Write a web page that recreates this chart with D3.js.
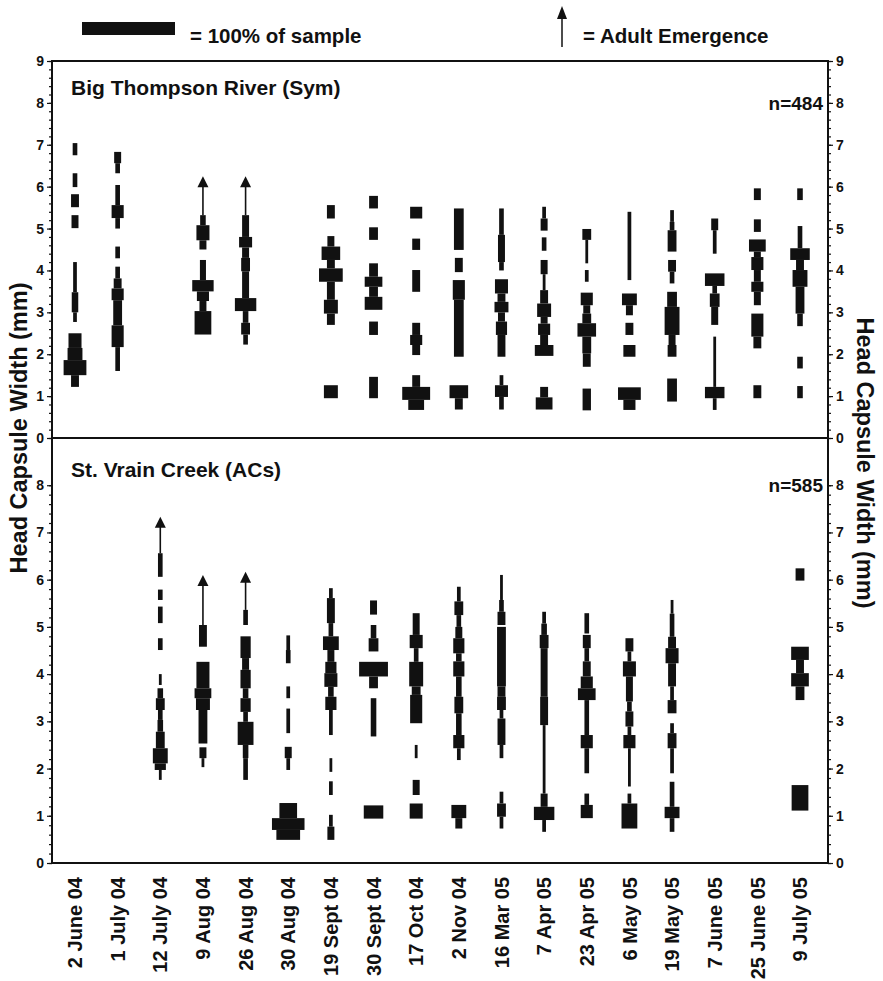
<!DOCTYPE html>
<html><head><meta charset="utf-8">
<script src="https://cdn.jsdelivr.net/npm/d3@7"></script>
<style>
body{margin:0;background:#fff}
svg{display:block}
text{font-family:"Liberation Sans",Arial,Helvetica,sans-serif;font-weight:bold;fill:#111}
</style>
</head><body>
<svg id="chart" width="883" height="981"></svg>
<script>
// ---------------- DATA ----------------
const dates = ["2 June 04","1 July 04","12 July 04","9 Aug 04","26 Aug 04","30 Aug 04","19 Sept 04","30 Sept 04","17 Oct 04","2 Nov 04","16 Mar 05","7 Apr 05","23 Apr 05","6 May 05","19 May 05","7 June 05","25 June 05","9 July 05"];
const yTicksSym = [0,1,2,3,4,5,6,7,8,9];
const yTicksACs = [0,1,2,3,4,5,6,7,8];
const panelTitles = ["Big Thompson River (Sym)", "St. Vrain Creek (ACs)"];
const sampleSizes = ["n=484", "n=585"];
const legendLabels = ["= 100% of sample", "= Adult Emergence"];
const yAxisTitle = "Head Capsule Width (mm)";

// size classes: [lower mm, upper mm, % of sample]
const symBins = [
 ["2 June 04", [[6.75,7.04,5],[5.99,6.32,5],[5.51,5.82,8.5],[5.01,5.32,7.5],[3.48,4.2,4],[3.0,3.48,7],[2.77,3.0,4],[2.15,2.5,14],[1.86,2.15,16],[1.5,1.86,24.5],[1.22,1.5,8.5]]],
 ["1 July 04", [[6.56,6.83,7.5],[6.32,6.56,5],[5.56,6.04,5],[5.25,5.56,13],[5.0,5.25,5],[4.29,4.57,5],[3.81,4.09,5],[3.57,3.81,8.5],[3.29,3.57,13],[2.69,3.29,9.5],[2.17,2.69,13],[1.6,2.17,5]]],
 ["9 Aug 04", [[5.08,5.32,6],[4.72,5.08,14],[4.5,4.72,7.5],[3.77,4.25,6.5],[3.5,3.77,23],[3.27,3.5,13],[3.03,3.27,7.5],[2.47,3.03,18]]],
 ["26 Aug 04", [[4.8,5.32,7.5],[4.55,4.8,14],[4.3,4.55,7.5],[3.98,4.3,9.5],[3.34,3.98,7.5],[3.03,3.34,23],[2.75,3.03,6],[2.47,2.75,9.5],[2.23,2.47,5]]],
 ["19 Sept 04", [[5.24,5.56,8.5],[4.57,4.82,7.5],[4.25,4.57,20],[4.05,4.25,8.5],[3.73,4.05,25.5],[3.3,3.73,8.5],[2.97,3.3,15],[2.7,2.97,8.5],[0.95,1.26,15]]],
 ["30 Sept 04", [[5.48,5.78,9.5],[4.73,5.03,9.5],[3.85,4.17,9.5],[3.61,3.85,19],[3.37,3.61,9.5],[3.06,3.37,19],[2.46,2.78,9.5],[0.95,1.46,9.5]]],
 ["17 Oct 04", [[5.24,5.52,13],[4.49,4.76,8.5],[3.49,4.01,8.5],[2.46,2.75,8.5],[2.22,2.46,13],[1.98,2.22,8.5],[1.22,1.5,8.5],[0.91,1.22,30],[0.67,0.91,17]]],
 ["2 Nov 04", [[4.49,5.48,10.5],[3.96,4.3,8.5],[3.3,3.77,13],[1.94,3.3,10.5],[0.95,1.26,20],[0.68,0.95,8.5]]],
 ["16 Mar 05", [[4.85,5.48,5],[4.2,4.85,7.5],[4.0,4.2,5],[3.45,3.79,14],[3.25,3.45,8.5],[3.0,3.25,15],[2.78,3.0,7.5],[2.46,2.78,12],[1.94,2.46,8.5],[1.26,1.5,4],[0.98,1.26,14],[0.68,0.98,5]]],
 ["7 Apr 05", [[5.24,5.52,4],[4.95,5.24,7.5],[4.47,4.79,5],[3.91,4.25,7.5],[3.53,3.91,3],[3.21,3.53,8.5],[2.89,3.21,15],[2.73,2.89,7.5],[2.46,2.73,13],[2.22,2.46,8.5],[1.96,2.22,20],[0.97,1.22,8.5],[0.68,0.97,18]]],
 ["23 Apr 05", [[4.73,4.99,9.5],[4.17,4.73,3],[3.73,4.01,4],[3.17,3.47,13],[2.97,3.17,7.5],[2.74,2.97,9.5],[2.42,2.74,20],[2.02,2.42,9.5],[1.7,2.02,8.5],[0.66,1.18,9]]],
 ["6 May 05", [[3.77,5.4,4],[3.17,3.45,16],[2.93,3.17,7.5],[2.46,2.75,8.5],[1.94,2.22,13],[0.91,1.21,24.5],[0.67,0.91,13]]],
 ["19 May 05", [[5.16,5.44,4],[4.96,5.16,5],[4.45,4.96,9.5],[3.97,4.25,8.5],[3.69,3.97,5],[3.13,3.49,10.5],[2.46,3.13,16],[2.22,2.46,7.5],[1.94,2.22,9.5],[0.87,1.42,10.5]]],
 ["7 June 05", [[4.96,5.24,7.5],[4.4,4.96,4],[3.63,3.93,21],[3.45,3.63,5],[3.13,3.45,10.5],[2.7,3.13,7.5],[1.22,2.42,3],[0.95,1.22,21],[0.67,0.95,4]]],
 ["25 June 05", [[5.68,5.96,7.5],[4.92,5.22,7.5],[4.45,4.74,18],[4.32,4.45,7.5],[4.01,4.32,13],[3.73,4.01,7.5],[3.49,3.73,13],[3.17,3.49,7.5],[2.42,2.97,13],[2.14,2.42,8.5],[0.95,1.26,8.5]]],
 ["9 July 05", [[5.68,5.96,6],[4.53,5.06,5],[4.25,4.53,21],[4.01,4.25,8.5],[3.61,4.01,16],[2.97,3.61,9.5],[2.67,2.97,6],[1.66,1.94,6],[0.95,1.24,6]]]
];

const acsBins = [
 ["12 July 04", [[6.06,6.56,5],[5.57,5.79,5],[5.08,5.43,5],[4.51,4.76,5],[3.77,4.0,3],[3.49,3.7,6],[3.24,3.49,9.5],[3.03,3.24,5],[2.78,3.03,6],[2.43,2.78,9.5],[2.11,2.43,16],[1.97,2.11,12],[1.76,1.97,3]]],
 ["9 Aug 04", [[4.58,5.04,8.5],[3.7,4.26,14],[3.49,3.7,18],[3.24,3.49,15],[2.53,3.24,9.5],[2.22,2.45,7.5],[2.03,2.22,3]]],
 ["26 Aug 04", [[5.04,5.36,5],[4.34,4.8,11],[4.09,4.34,7.5],[3.7,4.09,11],[3.49,3.7,6],[3.2,3.49,11],[2.99,3.2,5],[2.5,2.99,17],[2.22,2.5,6],[1.76,2.22,5]]],
 ["30 Aug 04", [[4.51,4.82,4],[4.23,4.51,5],[3.49,3.74,4],[2.75,3.27,4],[2.22,2.46,7.5],[1.97,2.22,4],[0.95,1.27,19],[0.7,0.95,35],[0.49,0.7,25.5]]],
 ["19 Sept 04", [[5.61,5.82,4],[5.08,5.61,8.5],[4.8,5.08,5],[4.51,4.8,17],[4.26,4.51,7.5],[4.02,4.26,12],[3.73,4.02,14],[3.52,3.73,6],[3.24,3.52,12],[2.71,3.24,4],[1.93,2.22,3],[1.44,1.73,4],[0.77,1.02,4],[0.49,0.77,7.5]]],
 ["30 Sept 04", [[5.26,5.56,7.5],[4.76,5.04,6],[4.48,4.76,10.5],[3.95,4.26,31],[3.7,3.95,9.5],[2.68,3.49,6],[0.94,1.22,21]]],
 ["17 Oct 04", [[4.83,5.29,7.5],[4.55,4.83,14],[4.26,4.55,5],[3.74,4.26,15],[3.56,3.74,9.5],[2.96,3.56,13],[2.22,2.5,3],[1.44,1.76,7.5],[0.94,1.26,14]]],
 ["2 Nov 04", [[5.54,5.85,4],[5.25,5.54,9.5],[5.0,5.25,5],[4.76,5.0,7.5],[4.44,4.76,12],[4.27,4.44,6],[3.95,4.27,12],[3.52,3.95,6],[3.17,3.52,9.5],[2.71,3.17,6],[2.43,2.71,12],[2.18,2.43,4],[0.95,1.23,16],[0.73,0.95,7.5]]],
 ["16 Mar 05", [[5.57,6.1,3],[5.32,5.57,5],[5.04,5.32,8.5],[3.74,5.0,9.5],[3.52,3.74,8.5],[3.24,3.52,9.5],[3.06,3.24,4],[2.5,3.06,8.5],[2.22,2.5,4],[1.26,1.51,4],[0.98,1.26,9.5],[0.73,0.98,4]]],
 ["7 Apr 05", [[5.07,5.32,4],[4.83,5.07,6],[4.55,4.83,9.5],[3.52,4.55,7.5],[2.92,3.52,8.5],[1.47,2.92,3],[1.19,1.47,7.5],[0.91,1.19,22],[0.66,0.91,4]]],
 ["23 Apr 05", [[4.86,5.29,5],[4.55,4.83,8.5],[4.27,4.55,5],[3.95,4.27,8.5],[3.7,3.95,13],[3.45,3.7,19],[2.71,3.45,5],[2.43,2.71,13],[1.9,2.43,5],[1.23,1.47,5],[0.95,1.23,13]]],
 ["6 May 05", [[4.48,4.76,8.5],[4.27,4.48,4],[3.95,4.27,14],[3.42,3.95,7.5],[3.21,3.42,5],[2.89,3.21,8.5],[2.71,2.89,4],[2.43,2.71,13],[1.62,2.43,3],[1.26,1.47,4],[0.73,1.26,17]]],
 ["19 May 05", [[5.28,5.57,3],[4.79,5.28,5],[4.55,4.79,8.5],[4.23,4.55,14],[3.74,4.23,8.5],[3.45,3.74,4],[3.17,3.45,9.5],[2.75,2.96,4],[2.43,2.75,9.5],[1.9,2.43,4],[1.19,1.72,5],[0.95,1.19,16],[0.66,0.95,5]]],
 ["9 July 05", [[5.98,6.24,9.5],[4.3,4.58,19],[4.02,4.3,8.5],[3.74,4.02,19],[3.45,3.74,9.5],[1.11,1.65,18]]]
];

// adult emergence arrows: [date, from mm, arrow tip mm]
const symEmergence = [["9 Aug 04",5.32,6.25],["26 Aug 04",5.32,6.25]];
const acsEmergence = [["12 July 04",6.56,7.33],["9 Aug 04",5.04,6.1],["26 Aug 04",5.36,6.17]];

// ---------------- CHART ----------------
const svg = d3.select("#chart");
const left = 52, right = 828, topY = 61, midY = 438, botY = 863;
const x = d3.scalePoint().domain(dates).range([75, 800]);
const ySym = d3.scaleLinear().domain([0,9]).range([midY, topY]);
const yACs = d3.scaleLinear().domain([0,9]).range([botY, midY]);
const w = d3.scaleLinear().domain([0,100]).range([0,93]);
const ink = "#111";

function drawPanel(y, bins, emerg, ticks, title, n, titleY, nY) {
  const g = svg.append("g");
  bins.forEach(([d, segs]) => {
    g.selectAll(null).data(segs).enter().append("rect")
      .attr("x", s => x(d) - w(s[2]) / 2)
      .attr("width", s => w(s[2]))
      .attr("y", s => y(s[1]))
      .attr("height", s => y(s[0]) - y(s[1]))
      .attr("fill", ink);
  });
  emerg.forEach(([d, from, to]) => {
    const cx = x(d), tip = y(to);
    g.append("line").attr("x1", cx).attr("x2", cx).attr("y1", y(from)).attr("y2", tip + 8)
      .attr("stroke", ink).attr("stroke-width", 1.6);
    g.append("path").attr("d", `M${cx},${tip}L${cx-5.5},${tip+11}L${cx+5.5},${tip+11}Z`).attr("fill", ink);
  });
  // axes
  const minor = d3.range(0, ticks[ticks.length-1]*5 + 1).map(i => i / 5);
  const la = svg.append("g").attr("transform", `translate(${left},0)`)
    .call(d3.axisLeft(y).tickValues(ticks).tickSize(5).tickSizeOuter(0).tickPadding(3).tickFormat(d3.format("d")));
  svg.append("g").attr("transform", `translate(${left},0)`)
    .call(d3.axisLeft(y).tickValues(minor).tickSize(3).tickSizeOuter(0).tickFormat(""));
  const ra = svg.append("g").attr("transform", `translate(${right},0)`)
    .call(d3.axisRight(y).tickValues(ticks).tickSize(5).tickSizeOuter(0).tickPadding(3).tickFormat(d3.format("d")));
  svg.append("g").attr("transform", `translate(${right},0)`)
    .call(d3.axisRight(y).tickValues(minor).tickSize(3).tickSizeOuter(0).tickFormat(""));
  svg.selectAll(".domain").remove();
  [la, ra].forEach(a => a.selectAll("text").attr("font-size", 14).style("font-family", "'Liberation Sans',Arial,sans-serif").style("font-weight", "bold").attr("fill", ink));
  svg.selectAll(".tick line").attr("stroke", ink).attr("stroke-width", 1.2);
  svg.append("text").attr("x", 71).attr("y", titleY).attr("font-size", 21).text(title);
  svg.append("text").attr("x", right - 5).attr("y", nY).attr("text-anchor", "end").attr("font-size", 19).text(n);
}

drawPanel(ySym, symBins, symEmergence, yTicksSym, panelTitles[0], sampleSizes[0], 95, 110);
drawPanel(yACs, acsBins, acsEmergence, yTicksACs, panelTitles[1], sampleSizes[1], 477, 492);

// frame
svg.append("rect").attr("x", left).attr("y", topY).attr("width", right-left).attr("height", botY-topY)
  .attr("fill", "none").attr("stroke", ink).attr("stroke-width", 2);
svg.append("line").attr("x1", left).attr("x2", right).attr("y1", midY).attr("y2", midY).attr("stroke", ink).attr("stroke-width", 2);

// x labels
svg.append("g").selectAll("text").data(dates).enter().append("text")
  .attr("transform", d => `translate(${x(d)},877) rotate(-90)`)
  .attr("text-anchor", "end").attr("dy", "0.36em").attr("font-size", 20).text(d => d);

// y titles
svg.append("text").attr("transform", "translate(27,428) rotate(-90)").attr("text-anchor", "middle")
  .attr("font-size", 23.5).text(yAxisTitle);
svg.append("text").attr("transform", "translate(857,463) rotate(90)").attr("text-anchor", "middle")
  .attr("font-size", 23.5).text(yAxisTitle);

// legend
svg.append("rect").attr("x", 82).attr("y", 22).attr("width", w(100)).attr("height", 13).attr("fill", ink);
svg.append("text").attr("x", 190).attr("y", 43).attr("font-size", 20.5).text(legendLabels[0]);
svg.append("line").attr("x1", 562).attr("x2", 562).attr("y1", 15).attr("y2", 47).attr("stroke", ink).attr("stroke-width", 1.5);
svg.append("path").attr("d", "M562,6L557,19L567,19Z").attr("fill", ink);
svg.append("text").attr("x", 583).attr("y", 43).attr("font-size", 20.5).text(legendLabels[1]);
</script>
</body></html>
